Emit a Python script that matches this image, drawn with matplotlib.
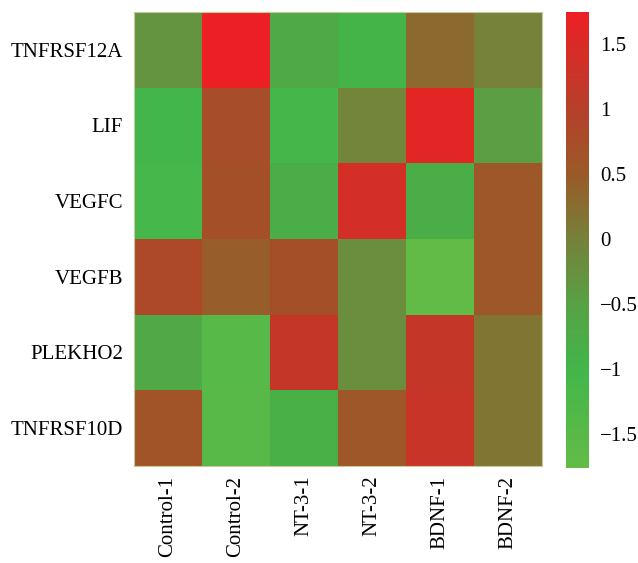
import numpy as np
import matplotlib
matplotlib.use("Agg")
import matplotlib.pyplot as plt
from matplotlib.colors import LinearSegmentedColormap, Normalize

genes = ["TNFRSF12A", "LIF", "VEGFC", "VEGFB", "PLEKHO2", "TNFRSF10D"]
samples = ["Control-1", "Control-2", "NT-3-1", "NT-3-2", "BDNF-1", "BDNF-2"]

tnfrsf12a = [-0.30, 1.75, -0.70, -0.95, 0.30, 0.00]
lif = [-1.00, 0.75, -1.05, -0.05, 1.60, -0.45]
vegfc = [-1.10, 0.70, -0.80, 1.40, -0.80, 0.55]
vegfb = [0.85, 0.45, 0.70, -0.20, -1.75, 0.55]
plekho2 = [-0.65, -1.45, 1.20, -0.20, 1.20, 0.15]
tnfrsf10d = [0.60, -1.50, -0.85, 0.55, 1.25, 0.15]

values = np.array([tnfrsf12a, lif, vegfc, vegfb, plekho2, tnfrsf10d])

vmin, vmax = -1.76, 1.75
anchors = [(-1.76, "#63bb47"), (-1.0, "#42b64a"), (-0.5, "#58a144"),
           (0.0, "#76813a"), (0.5, "#9a5a28"), (1.0, "#b5402a"),
           (1.75, "#ec2024")]
cmap = LinearSegmentedColormap.from_list(
    "greenred", [((v - vmin) / (vmax - vmin), c) for v, c in anchors])
norm = Normalize(vmin=vmin, vmax=vmax)

plt.rcParams["font.family"] = ["Liberation Serif", "DejaVu Serif"]

fig = plt.figure(figsize=(6.38, 5.63), dpi=100)
ax = fig.add_axes([0.210, 0.1723, 0.6395, 0.8064])
mesh = ax.pcolormesh(values, cmap=cmap, norm=norm)
ax.set_xlim(0, len(samples))
ax.set_ylim(len(genes), 0)
ax.set_xticks(np.arange(len(samples)) + 0.5)
ax.set_xticklabels(samples, rotation=90, fontsize=15)
ax.set_yticks(np.arange(len(genes)) + 0.5)
ax.set_yticklabels(genes, fontsize=15)
ax.tick_params(axis="y", length=0, pad=8)
ax.tick_params(axis="x", length=0, pad=7)
for s in ax.spines.values():
    s.set_color("#c8c89a")
    s.set_linewidth(0.8)

cax = fig.add_axes([0.887, 0.1687, 0.036, 0.810])
cb = fig.colorbar(mesh, cax=cax)
cb.set_ticks([-1.5, -1, -0.5, 0, 0.5, 1, 1.5])
cb.set_ticklabels(["\u22121.5", "\u22121", "\u22120.5", "0", "0.5", "1", "1.5"])
cb.ax.tick_params(length=0, labelsize=15, pad=8)
cb.outline.set_visible(False)

fig.savefig("out.png", dpi=100)
